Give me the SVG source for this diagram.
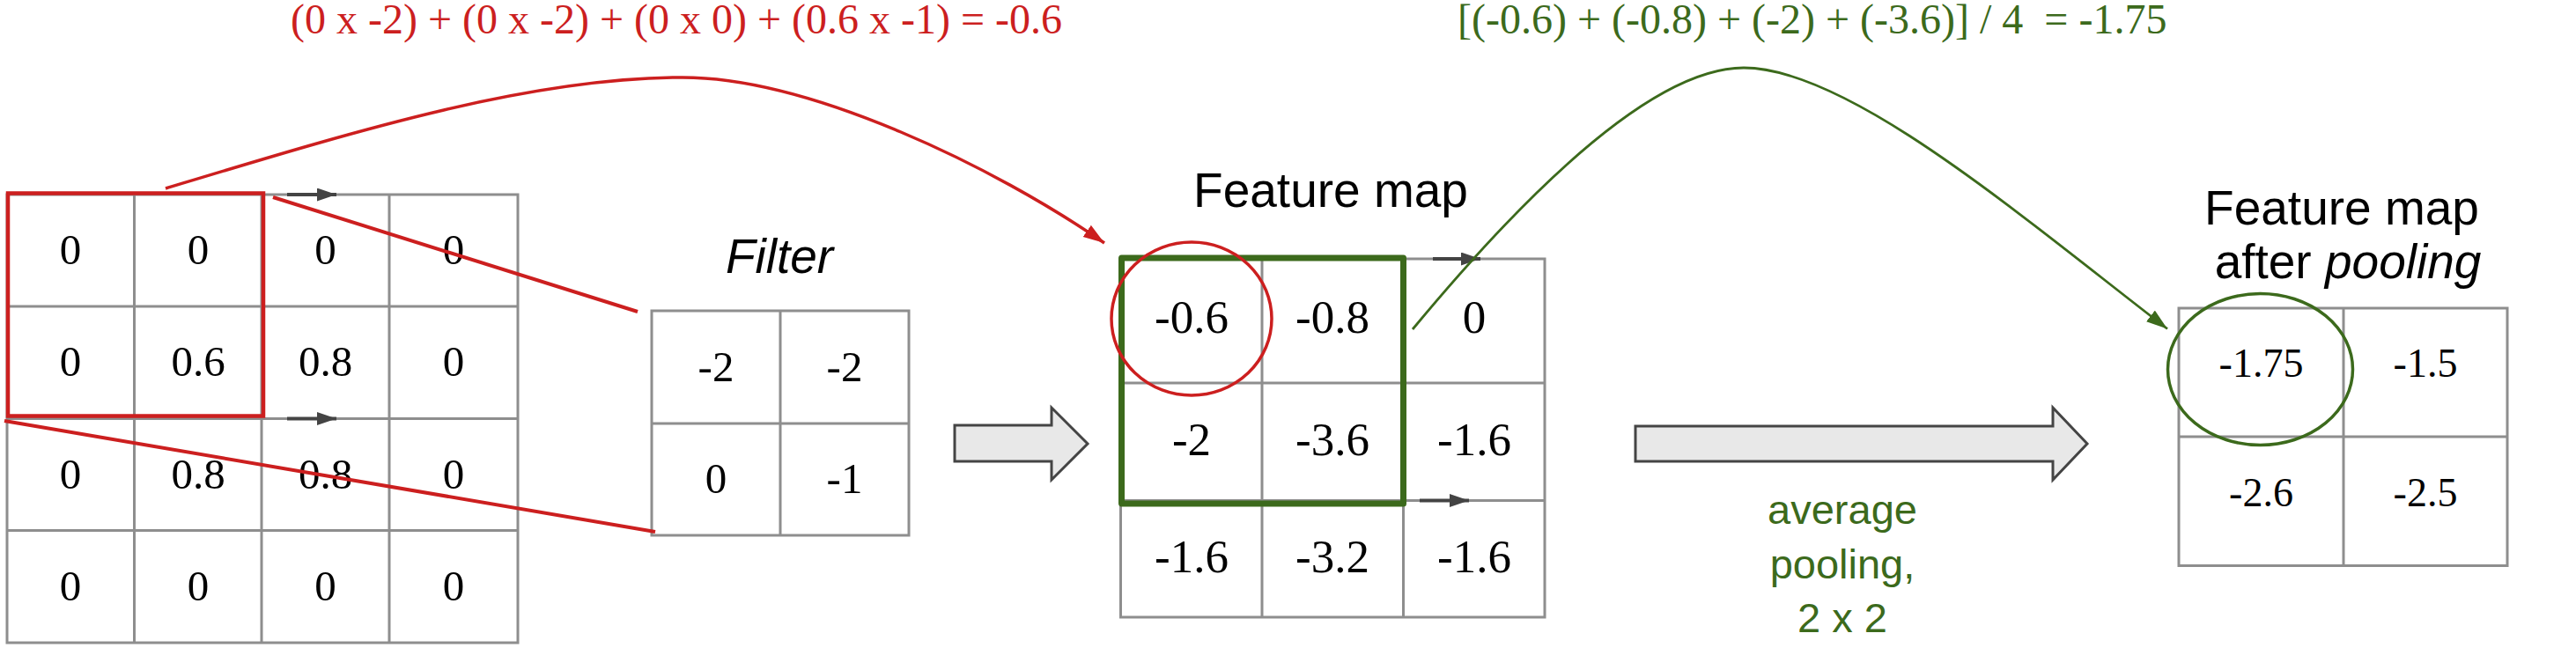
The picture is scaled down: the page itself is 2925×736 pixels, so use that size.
<svg xmlns="http://www.w3.org/2000/svg" width="2925" height="736" viewBox="0 0 2925 736">
<style>
.grid{fill:#fff;stroke:#8e8e8e;stroke-width:3}
.gl{stroke:#8e8e8e;stroke-width:3;fill:none}
.num{font-family:"Liberation Serif","Times New Roman",serif;fill:#000;text-anchor:middle}
.lbl{font-family:"Liberation Sans",Arial,sans-serif;fill:#000;text-anchor:middle}
.red{stroke:#cc1f1f;fill:none}
.grn{stroke:#3c6a1c;fill:none}
.fat{fill:#e8e8e8;stroke:#444;stroke-width:3;stroke-linejoin:miter}
.step{stroke:#444;stroke-width:4;fill:none}
</style>
<defs>
<marker id="mStep" markerUnits="userSpaceOnUse" markerWidth="24" markerHeight="16" refX="22" refY="7.5" orient="auto"><path d="M0,0 L22,7.5 L0,15 Z" fill="#444"/></marker>
<marker id="mRed" markerUnits="userSpaceOnUse" markerWidth="26" markerHeight="18" refX="24" refY="8" orient="auto"><path d="M0,0 L24,8 L0,16 Z" fill="#cc1f1f"/></marker>
<marker id="mGrn" markerUnits="userSpaceOnUse" markerWidth="26" markerHeight="18" refX="24" refY="8" orient="auto"><path d="M0,0 L24,8 L0,16 Z" fill="#3c6a1c"/></marker>
</defs>
<rect width="2925" height="736" fill="#fff"/>

<g id="formula-conv">
<text x="330" y="38" font-family="Liberation Serif,Times New Roman,serif" font-size="48" fill="#cc1f1f">(0 x -2) + (0 x -2) + (0 x 0) + (0.6 x -1) = -0.6</text>
</g>
<g id="formula-pool">
<text x="1655" y="38" font-family="Liberation Serif,Times New Roman,serif" font-size="48" fill="#3c6a1c">[(-0.6) + (-0.8) + (-2) + (-3.6)] / 4 &#160;= -1.75</text>
</g>

<g id="input">
<rect class="grid" x="8" y="221" width="580" height="509"/>
<path class="gl" d="M152.5,221V730M297,221V730M442,221V730M8,348H588M8,475.5H588M8,602.6H588"/>
<g class="num" font-size="49">
<text x="80" y="300">0</text><text x="225" y="300">0</text><text x="369.5" y="300">0</text><text x="515" y="300">0</text>
<text x="80" y="427">0</text><text x="225" y="427">0.6</text><text x="369.5" y="427">0.8</text><text x="515" y="427">0</text>
<text x="80" y="554.5">0</text><text x="225" y="554.5">0.8</text><text x="369.5" y="554.5">0.8</text><text x="515" y="554.5">0</text>
<text x="80" y="682">0</text><text x="225" y="682">0</text><text x="369.5" y="682">0</text><text x="515" y="682">0</text>
</g>
<rect x="9" y="219.5" width="290" height="253" fill="none" stroke="#cc1f1f" stroke-width="4.5"/>
</g>

<g id="filter">
<text class="lbl" x="885" y="310" font-size="55" font-style="italic">Filter</text>
<rect class="grid" x="740" y="353" width="292" height="255"/>
<path class="gl" d="M886,353V608M740,481H1032"/>
<g class="num" font-size="49">
<text x="813" y="433">-2</text><text x="959" y="433">-2</text>
<text x="813" y="560">0</text><text x="959" y="560">-1</text>
</g>
</g>

<g id="arrow-conv">
<path class="fat" d="M1084,483 L1194,483 L1194,463 L1235,504 L1194,545 L1194,524 L1084,524 Z"/>
</g>

<g id="feature-map">
<text class="lbl" x="1511" y="235" font-size="55">Feature map</text>
<rect class="grid" x="1272.5" y="294" width="481.5" height="407"/>
<path class="gl" d="M1433,294V701M1593.5,294V701M1272.5,435H1754M1272.5,568.5H1754"/>
<g class="num" font-size="53">
<text x="1353" y="378">-0.6</text><text x="1513" y="378">-0.8</text><text x="1674" y="378">0</text>
<text x="1353" y="516.5">-2</text><text x="1513" y="516.5">-3.6</text><text x="1674" y="516.5">-1.6</text>
<text x="1353" y="650">-1.6</text><text x="1513" y="650">-3.2</text><text x="1674" y="650">-1.6</text>
</g>
<rect x="1273.5" y="293" width="320" height="279" fill="none" stroke="#3c6a1c" stroke-width="7" stroke-linejoin="round"/>
<ellipse cx="1353" cy="362" rx="91" ry="87" fill="none" stroke="#cc1f1f" stroke-width="3.5"/>
</g>

<g id="arrow-pool">
<path class="fat" d="M1857,484 L2331,484 L2331,463 L2370,504 L2331,545 L2331,524 L1857,524 Z"/>
<g font-family="Liberation Sans,Arial,sans-serif" font-size="47" fill="#3c6a1c" text-anchor="middle">
<text x="2092" y="595">average</text>
<text x="2092" y="657">pooling,</text>
<text x="2092" y="718">2 x 2</text>
</g>
</g>

<g id="pooled-map">
<text class="lbl" x="2659" y="254.6" font-size="55">Feature map</text>
<text class="lbl" x="2666" y="316" font-size="55">after <tspan font-style="italic">pooling</tspan></text>
<rect class="grid" x="2474" y="350" width="373" height="292.5"/>
<path class="gl" d="M2661,350V642.5M2474,496H2847"/>
<g class="num" font-size="46">
<text x="2567.5" y="428.4">-1.75</text><text x="2754" y="428.4">-1.5</text>
<text x="2567.5" y="575">-2.6</text><text x="2754" y="575">-2.5</text>
</g>
<ellipse cx="2566.5" cy="419.5" rx="105" ry="86" fill="none" stroke="#3c6a1c" stroke-width="3.5"/>
</g>

<g id="connectors">
<path class="step" d="M326,221H382" marker-end="url(#mStep)"/>
<path class="step" d="M326,475.5H382" marker-end="url(#mStep)"/>
<path class="step" d="M1627,294H1681" marker-end="url(#mStep)"/>
<path class="step" d="M1612,568.5H1668" marker-end="url(#mStep)"/>
<path class="red" stroke-width="4" d="M310,224 L724,354"/>
<path class="red" stroke-width="4" d="M5,478 L744,604"/>
<path class="red" stroke-width="3.5" d="M188,214 C400,150 600,88 775,88 C920,88 1130,190 1254,276" marker-end="url(#mRed)"/>
<path class="grn" stroke-width="2.8" d="M1604,374 C1740,210 1880,77 1980,77 C2100,77 2300,250 2461,373.5" marker-end="url(#mGrn)"/>
</g>
</svg>
